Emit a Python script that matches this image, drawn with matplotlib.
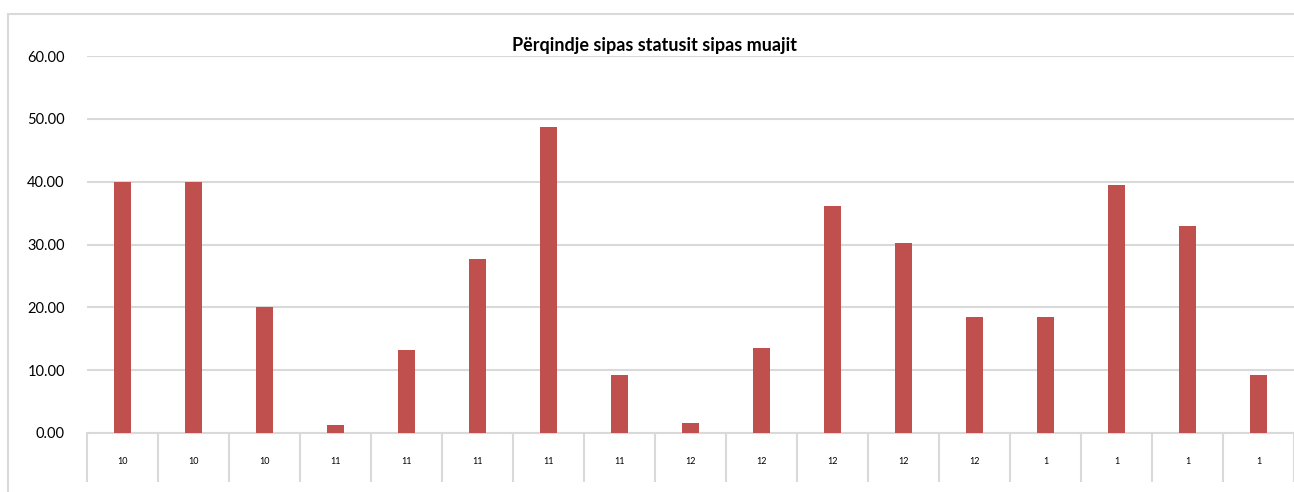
import matplotlib

matplotlib.use("Agg")
import matplotlib.pyplot as plt
from matplotlib.patches import Rectangle
import numpy as np

# month label for each bar and the percentage value
MONTHS = ["10", "10", "10", "11", "11", "11", "11", "11", "12", "12", "12", "12", "12",
          "1", "1", "1", "1"]
VALUES = [40.0, 40.0, 20.0, 1.3, 13.2, 27.7, 48.7, 9.2, 1.6, 13.5, 36.1, 30.2, 18.5,
          18.5, 39.5, 32.9, 9.2]
TITLE = "Përqindje sipas statusit sipas muajit"

BAR_COLOR = "#C0504D"
GRID = "#d9d9d9"

plt.rcParams["font.family"] = ["Lato", "DejaVu Sans"]

fig = plt.figure(figsize=(12.94, 4.92), dpi=100)
fig.patches.append(Rectangle((8 / 1294, -0.1), 1.2, 1 - 14 / 492 + 0.1,
                             transform=fig.transFigure, fill=False,
                             edgecolor=GRID, lw=1.5))

ax = fig.add_axes([87 / 1294, 1 - 433 / 492, 1 - 87 / 1294, (433 - 56) / 492])
x = np.arange(len(VALUES))
ax.bar(x, VALUES, width=0.25, color=BAR_COLOR, zorder=3)

ax.set_xlim(-0.5, len(VALUES) - 0.5)
ax.set_ylim(0, 60)
ax.set_yticks(np.arange(0, 61, 10))
ax.set_yticklabels([f"{v:.2f}" for v in np.arange(0, 61, 10)], fontsize=10.5)
ax.yaxis.grid(True, color=GRID, lw=1.5, zorder=0)
ax.tick_params(axis="y", length=0, pad=16)

ax.set_xticks(x)
ax.set_xticklabels(MONTHS, fontsize=6.5)
ax.tick_params(axis="x", which="major", length=0, pad=17)
ax.set_xticks(np.arange(-0.5, len(VALUES)), minor=True)
ax.tick_params(axis="x", which="minor", length=35, width=1.5, color=GRID, direction="out")

for side in ["left", "right", "top"]:
    ax.spines[side].set_visible(False)
ax.spines["bottom"].set_color(GRID)
ax.spines["bottom"].set_linewidth(1.5)

fig.text(655 / 1294, 1 - 46 / 492, TITLE, ha="center", va="center",
         fontsize=13, fontweight="bold")

fig.savefig("out.png", dpi=100)
